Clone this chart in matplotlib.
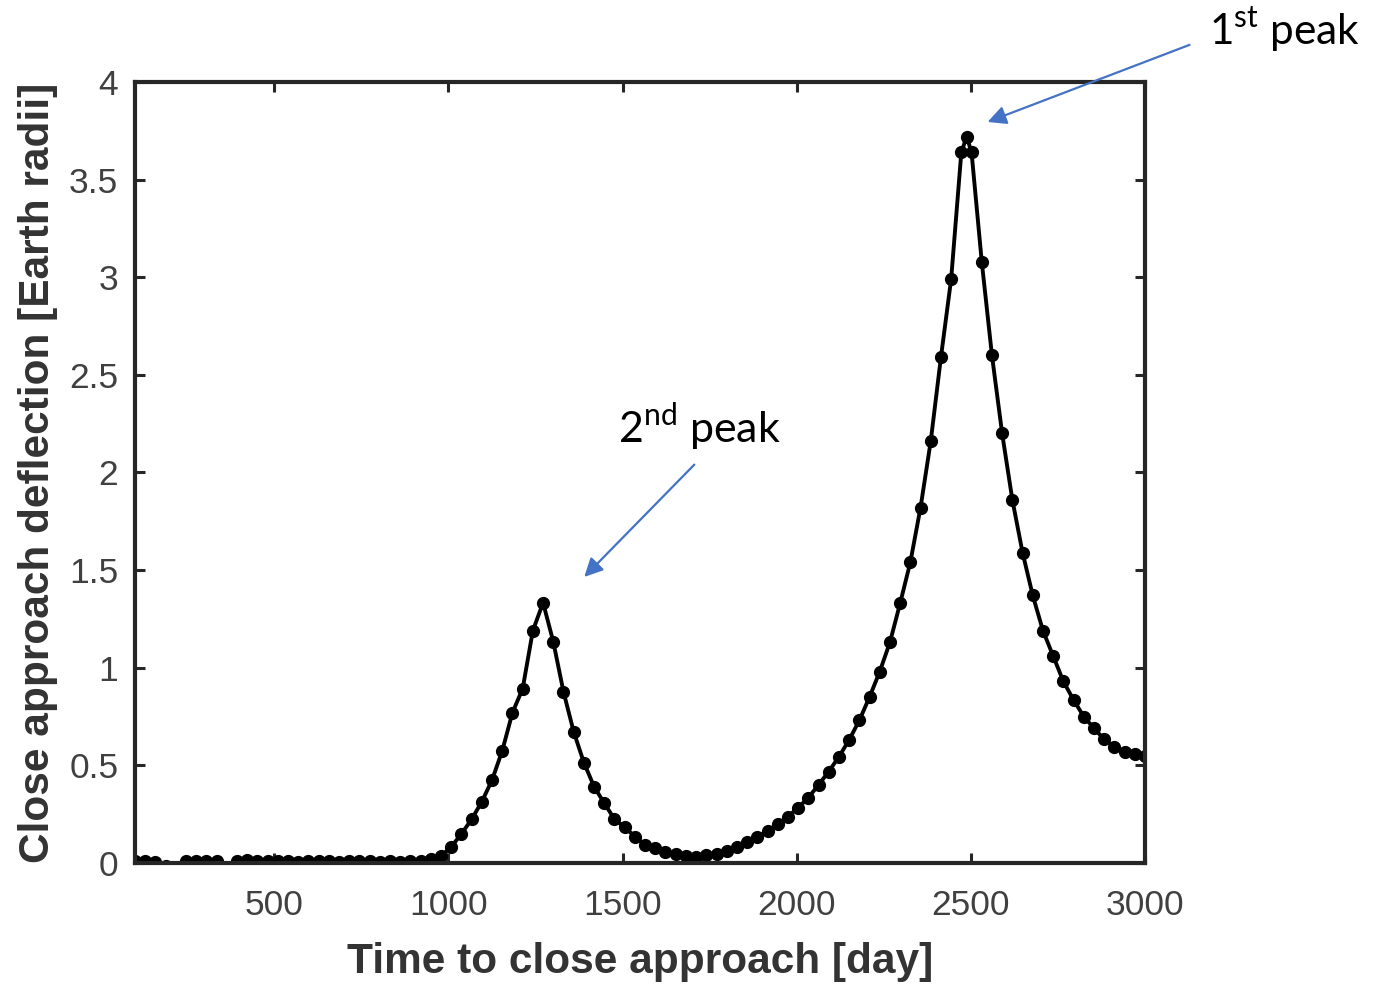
import numpy as np
import matplotlib.pyplot as plt

plt.rcParams['font.family'] = ['Liberation Sans', 'DejaVu Sans']
plt.rcParams['mathtext.fontset'] = 'custom'
plt.rcParams['mathtext.rm'] = 'Lato'

# time to close approach [day], sampled evenly from 100 to 3000
days = np.linspace(100, 3000, 100)
days = np.insert(days, 82, 2488)  # extra sample right at the 1st peak

# close approach deflection [Earth radii]
deflection = [
    0.010, 0.010, 0.005, -0.015, -0.060, 0.012, 0.010, 0.010, 0.008, -0.060,
    0.012, 0.015, 0.010, 0.008, 0.012, 0.010, 0.006, 0.012, 0.008, 0.010,
    0.006, 0.012, 0.008, 0.010, 0.006, 0.010, 0.005, 0.012, 0.010, 0.018,
    0.035, 0.083, 0.149, 0.224, 0.314, 0.425, 0.575, 0.770, 0.893, 1.190,
    1.333, 1.133, 0.877, 0.672, 0.514, 0.391, 0.306, 0.224, 0.183, 0.135,
    0.092, 0.075, 0.058, 0.046, 0.034, 0.032, 0.041, 0.046, 0.063, 0.080,
    0.106, 0.132, 0.164, 0.198, 0.237, 0.283, 0.334, 0.400, 0.468, 0.544,
    0.630, 0.730, 0.850, 0.980, 1.130, 1.330, 1.540, 1.820, 2.160, 2.590,
    2.990, 3.640, 3.720, 3.640, 3.080, 2.600, 2.200, 1.860, 1.590, 1.370,
    1.190, 1.060, 0.930, 0.835, 0.750, 0.690, 0.633, 0.596, 0.570, 0.558,
    0.548,
]

xticks = [500, 1000, 1500, 2000, 2500, 3000]
yticks = [0, 0.5, 1, 1.5, 2, 2.5, 3, 3.5, 4]
yticklabels = ['0', '0.5', '1', '1.5', '2', '2.5', '3', '3.5', '4']

fig = plt.figure(figsize=(13.75, 9.85), dpi=100)
ax = fig.add_axes([0.0982, 0.1239, 0.7345, 0.7929])

ax.plot(days, deflection, color='black', linewidth=2.8,
        marker='o', markersize=8.5, markerfacecolor='black')

ax.set_xlim(100, 3000)
ax.set_ylim(0, 4)
ax.set_xticks(xticks)
ax.set_yticks(yticks)
ax.set_yticklabels(yticklabels)
ax.tick_params(direction='in', length=7, width=2.2, top=True, right=True,
               labelsize=25.5, labelcolor='#404040', color='#262626')
ax.tick_params(axis='x', pad=19)
ax.tick_params(axis='y', pad=12)
for s in ax.spines.values():
    s.set_linewidth(3)
    s.set_color('#262626')

ax.set_xlabel('Time to close approach [day]', fontsize=30.5, fontweight='bold',
              color='#333333', labelpad=14)
ax.set_ylabel('Close approach deflection [Earth radii]', fontsize=30.5,
              fontweight='bold', color='#333333', labelpad=8)

arrow = dict(arrowstyle='-|>', color='#4472C4', linewidth=1.6,
             mutation_scale=28, shrinkA=0, shrinkB=0)
ax.annotate('', xy=(2548, 3.795), xytext=(3128, 4.19), arrowprops=arrow,
            annotation_clip=False)
ax.text(3401, 4.27, r'1$^{\mathrm{st}}$ peak', fontsize=30.5, family='Lato',
        ha='center', va='center', clip_on=False)
ax.annotate('', xy=(1390, 1.465), xytext=(1706, 2.04), arrowprops=arrow,
            annotation_clip=False)
ax.text(1720, 2.233, r'2$^{\mathrm{nd}}$ peak', fontsize=31, family='Lato',
        ha='center', va='center')

fig.savefig('out.png', dpi=100)
